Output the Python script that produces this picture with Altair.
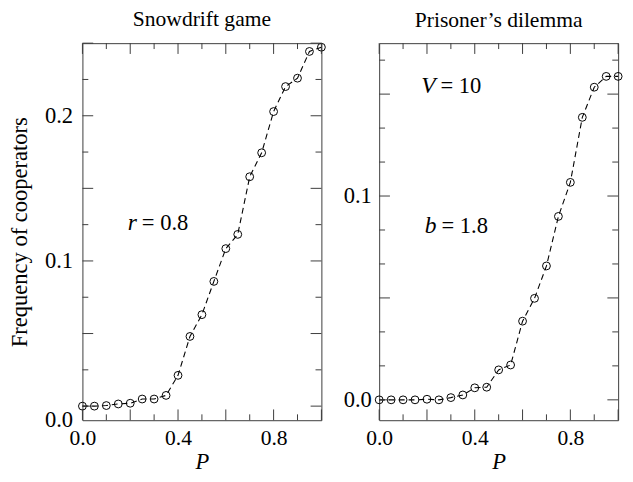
import altair as alt
import pandas as pd
import numpy as np

# ---- data ----
P = [0.0, 0.05, 0.1, 0.15, 0.2, 0.25, 0.3, 0.35, 0.4, 0.45, 0.5,
     0.55, 0.6, 0.65, 0.7, 0.75, 0.8, 0.85, 0.9, 0.95, 1.0]
snowdrift = [0.0, 0.0, 0.0004, 0.0015, 0.002, 0.0049, 0.0049, 0.0074, 0.0212, 0.048, 0.063,
             0.0859, 0.1085, 0.1183, 0.158, 0.1745, 0.2029, 0.2201, 0.2259, 0.2443, 0.2472]
prisoners = [0.0, 0.0, 0.0, 0.0, 0.0003, 0.0, 0.0011, 0.0024, 0.0059, 0.0062, 0.0147,
             0.0171, 0.0386, 0.0498, 0.0657, 0.090, 0.1067, 0.1386, 0.1534, 0.1587, 0.1587]

titles = ["Snowdrift game", "Prisoner\u2019s dilemma"]
x_labels = [0.0, 0.4, 0.8]
y_labels_left = [0.0, 0.1, 0.2]
y_labels_right = [0.0, 0.1]

annot_left_var = ["r"]
annot_left_rest = ["= 0.8"]
annot_left_x = [0.228]
annot_left_y = [0.126]

annot_right_var = ["V", "b"]
annot_right_rest = ["= 10", "= 1.8"]
annot_right_x = [0.236, 0.24]
annot_right_y = [0.154, 0.085]

FONT = "Liberation Serif"
FRAME = "#3a3a3a"
W, H = 244, 385


def tick_values(lo, hi, step):
    k0 = int(np.ceil(lo / step - 1e-9))
    k1 = int(np.floor(hi / step + 1e-9))
    return [round(k * step, 6) for k in range(k0, k1 + 1)]


def panel(values, title, ydom, ymaj_step, ymin_step, ylabels, avar, arest, ax, ay,
          show_title, label_pad, zero_offset):
    df = pd.DataFrame({"P": P, "F": values})
    xscale = alt.Scale(domain=[0, 1], nice=False, zero=False)
    yscale = alt.Scale(domain=ydom, nice=False, zero=False)

    xaxis = alt.Axis(values=x_labels, format=".1f", ticks=False, domain=False, grid=False,
                     labelFlush=False, labelPadding=8, labelFont=FONT, labelFontSize=22,
                     labelColor="black", title="P", titleFont=FONT, titleFontStyle="italic",
                     titleFontWeight="normal", titleFontSize=23, titleColor="black",
                     titlePadding=2)
    yargs = dict(values=ylabels, format=".1f", ticks=False, domain=False, grid=False,
                 labelFlush=False, labelPadding=label_pad, labelFont=FONT, labelFontSize=23,
                 labelColor="black")
    if zero_offset:
        yargs["labelOffset"] = {"condition": {"test": "datum.value === 0", "value": zero_offset},
                                "value": 0}
    if show_title:
        yargs.update(title="Frequency of cooperators", titleFont=FONT, titleFontSize=23,
                     titleFontWeight="normal", titleColor="black", titlePadding=13)
    else:
        yargs.update(title="")
    yaxis = alt.Axis(**yargs)

    def xenc(field="P"):
        return alt.X(f"{field}:Q", scale=xscale, axis=xaxis)

    def yenc(field="F"):
        return alt.Y(f"{field}:Q", scale=yscale, axis=yaxis)

    base = alt.Chart(df)
    line = base.mark_line(color="black", strokeDash=[6, 4], strokeWidth=1.1).encode(
        x=xenc(), y=yenc())
    pts = base.mark_point(shape="circle", filled=False, size=64, color="black",
                          strokeWidth=1, opacity=1).encode(x=xenc(), y=yenc())

    layers = [line, pts]

    # tick marks (inward, on all four sides)
    yall = tick_values(ydom[0], ydom[1], ymin_step)
    ymaj = [v for v in yall if abs(v / ymaj_step - round(v / ymaj_step)) < 1e-6]
    ymin = [v for v in yall if v not in ymaj]
    xall = tick_values(0, 1, 0.1)
    xmaj = [v for v in xall if abs(v / 0.2 - round(v / 0.2)) < 1e-6]
    xmin = [v for v in xall if v not in xmaj]

    for vals, L in ((ymaj, 11), (ymin, 6)):
        tdf = pd.DataFrame({"F": vals})
        layers.append(alt.Chart(tdf).mark_rule(color=FRAME, strokeWidth=1).encode(
            y=yenc(), x=alt.value(0), x2=alt.value(L)))
        layers.append(alt.Chart(tdf).mark_rule(color=FRAME, strokeWidth=1).encode(
            y=yenc(), x=alt.value(W), x2=alt.value(W - L)))
    for vals, L in ((xmaj, 11), (xmin, 6)):
        tdf = pd.DataFrame({"P": vals})
        layers.append(alt.Chart(tdf).mark_rule(color=FRAME, strokeWidth=1).encode(
            x=xenc(), y=alt.value(H), y2=alt.value(H - L)))
        layers.append(alt.Chart(tdf).mark_rule(color=FRAME, strokeWidth=1).encode(
            x=xenc(), y=alt.value(0), y2=alt.value(L)))

    adf = pd.DataFrame({"var": avar, "rest": arest, "P": ax, "F": ay})
    layers.append(alt.Chart(adf).mark_text(font=FONT, fontSize=24, fontStyle="italic",
                                           align="right", baseline="middle", color="black")
                  .encode(text="var:N", x=xenc(), y=yenc()))
    layers.append(alt.Chart(adf).mark_text(font=FONT, fontSize=23, align="left", dx=5,
                                           baseline="middle", color="black")
                  .encode(text="rest:N", x=xenc(), y=yenc()))

    return alt.layer(*layers).properties(
        width=W, height=H,
        title=alt.TitleParams(title, font=FONT, fontSize=22, fontWeight="normal",
                              color="black", offset=11))


left = panel(snowdrift, titles[0], [-0.0097, 0.25], 0.05, 0.025, y_labels_left,
             annot_left_var, annot_left_rest, annot_left_x, annot_left_y,
             True, 10, 14)
right = panel(prisoners, titles[1], [-0.01, 0.175], 0.05, 0.05 / 3, y_labels_right,
              annot_right_var, annot_right_rest, annot_right_x, annot_right_y,
              False, 8, 0)

chart = alt.hconcat(left, right, spacing=14).properties(
    padding={"top": -6, "bottom": -5, "left": 0, "right": 0}
).configure_view(stroke=FRAME, strokeWidth=1)

chart.save("out.html", embed_options={"renderer": "svg", "actions": False})
